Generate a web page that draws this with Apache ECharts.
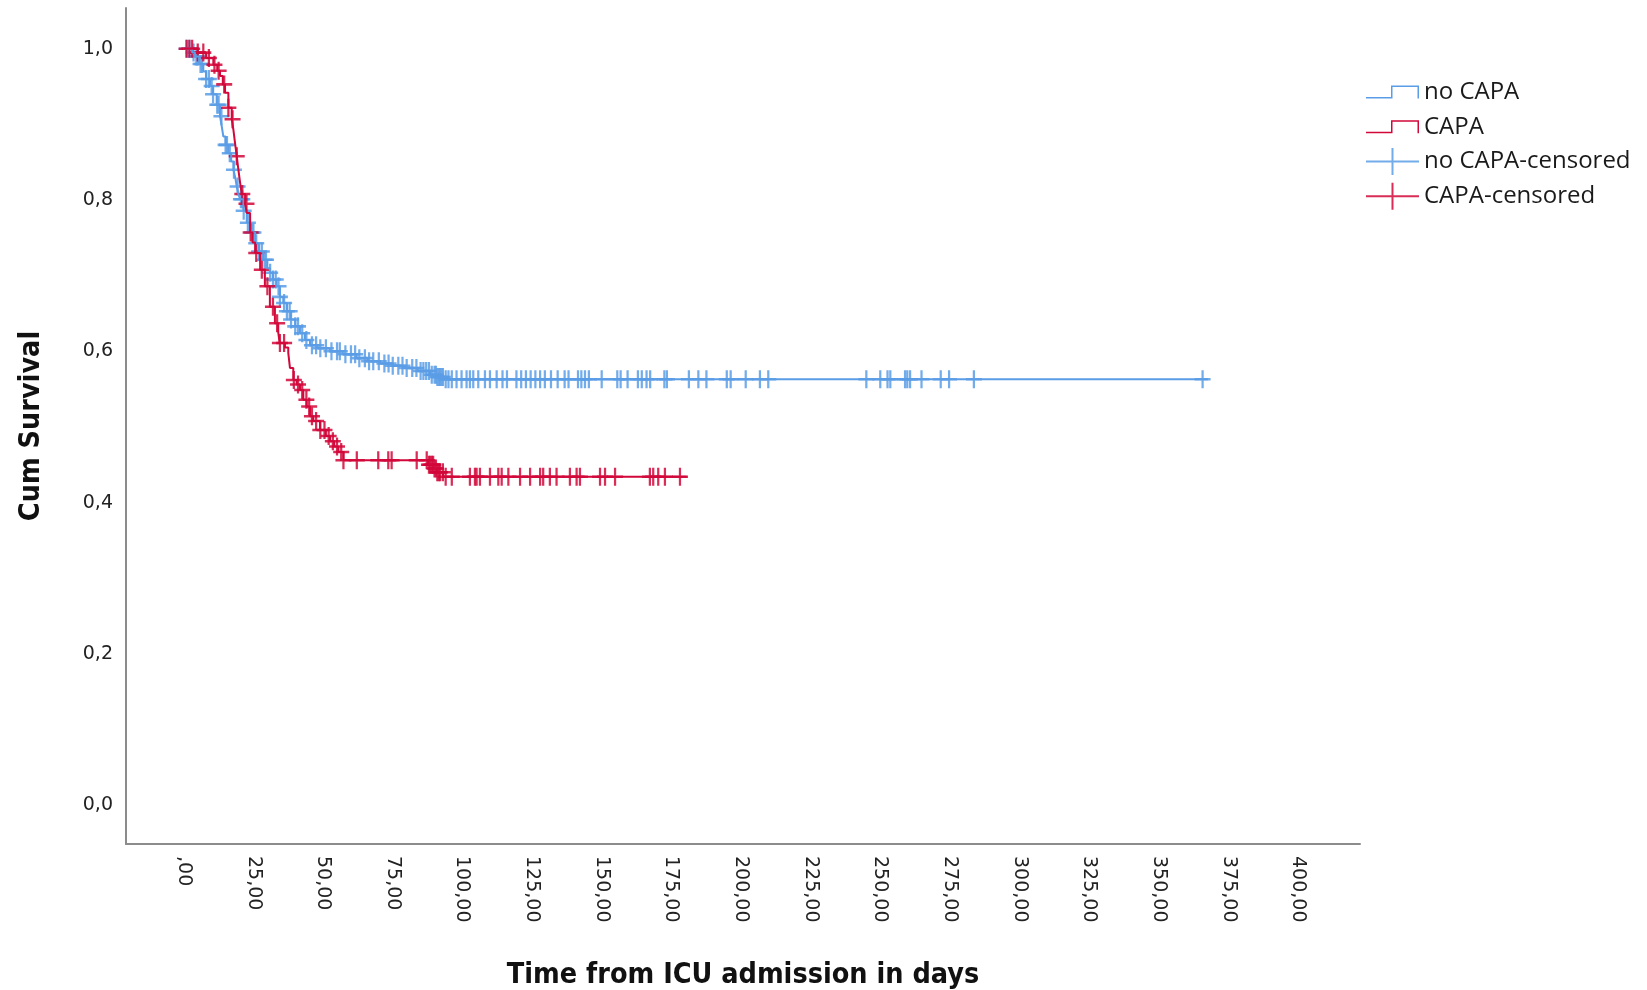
<!DOCTYPE html>
<html>
<head>
<meta charset="utf-8">
<script src="https://cdn.jsdelivr.net/npm/echarts@6/dist/echarts.min.js"></script>
<style>
    html, body {
        margin: 0;
        padding: 0;
        background: #fff;
    }
    #chart {
        width: 1647px;
        height: 990px;
    }
</style>
</head>
<body>
<div id="chart"></div>
<script>
// Kaplan-Meier steps: time (days) and survival after the drop
const noCapaTimes = [0, 3, 4, 5.5, 7, 8, 9.4, 10.5, 11.8, 13, 13.6, 14.2, 15, 16, 17, 17.8, 18.5, 19, 19.6, 20.2,
    21.4, 22.6, 24, 25.6, 27, 28.5, 30, 30.9, 32, 33.3, 34.5, 35.7, 37, 38.4, 40, 41.7, 43.5, 45.3, 48, 52.4,
    57, 62, 66, 70.4, 75, 78.8, 84, 88.4, 91, 93.1]
const noCapaSurv = [1.0, 0.995, 0.99, 0.98, 0.97, 0.96, 0.951, 0.94, 0.926, 0.911, 0.898, 0.884, 0.873, 0.862, 0.851, 0.84, 0.829, 0.818, 0.808, 0.801,
    0.786, 0.77, 0.757, 0.743, 0.732, 0.721, 0.71, 0.704, 0.695, 0.686, 0.672, 0.664, 0.653, 0.642, 0.633, 0.624, 0.615, 0.608, 0.604, 0.6,
    0.596, 0.591, 0.587, 0.584, 0.581, 0.578, 0.574, 0.569, 0.566, 0.563]
const noCapaEnd = 367.6

const capaTimes = [0, 5, 8, 10.6, 12, 13, 14, 14.8, 16, 17.2, 17.8, 18.4, 19, 19.6, 20.2, 20.8, 22, 22.6, 23.8, 24.7,
    25.6, 27.4, 29.1, 30.9, 32.7, 33.9, 34.4, 36.3, 37.5, 38.1, 39.3, 40.5, 41.7, 42.9, 44.1, 45.3, 46.5, 48.9, 51, 52.5,
    54, 55.5, 57.3, 87.7, 89.6, 91, 93.1]
const capaSurv = [1.0, 0.995, 0.988, 0.979, 0.971, 0.964, 0.953, 0.942, 0.922, 0.907, 0.893, 0.875, 0.858, 0.84, 0.823, 0.808, 0.795, 0.783, 0.757, 0.744,
    0.73, 0.708, 0.686, 0.659, 0.637, 0.625, 0.611, 0.605, 0.598, 0.578, 0.562, 0.556, 0.549, 0.536, 0.527, 0.514, 0.508, 0.496, 0.488, 0.481,
    0.474, 0.467, 0.456, 0.45, 0.445, 0.44, 0.434]
const capaEnd = 180.5

// censored times (days)
const noCapaCensored = [1, 2, 3.5, 4.5, 5, 6, 6.5, 8, 9, 10, 10.5, 12, 12.5, 13.5, 15, 15.5, 16.5, 18, 19.3, 20.5,
    21, 21.5, 23, 24.5, 25, 26, 27, 28, 29, 29.5, 31, 32, 33, 34, 34.5, 36, 37, 38, 38.5, 40,
    41, 42.5, 44, 46, 47.5, 49, 51, 53, 55, 56, 58, 60, 61.5, 63, 65, 66.5, 68, 70, 72, 73.5,
    75, 77, 78.5, 80, 82, 83.5, 85, 86, 87, 88, 89, 90, 90.5, 91, 91.5, 92, 92.5, 93, 94, 95,
    96.2, 97.9, 99.7, 101.5, 102.7, 103.9, 105.7, 108.1, 109.9, 112.3, 114.4, 116, 119.4, 121.1, 122.8, 124.5, 126.2, 127.9, 129.6, 131.8,
    134.2, 136.7, 138.1, 141.5, 142.7, 144, 145.4, 150, 155.6, 156.8, 159.3, 163, 164.4, 166.1, 167.4, 172.5, 173.4, 181.3, 184.7, 187.6,
    194.9, 196.3, 201.7, 206.8, 209.8, 245, 250, 252.6, 253.6, 258.9, 259.7, 260.7, 264.8, 271.7, 274.7, 283.6, 365.7]
const capaCensored = [1, 2, 3, 5, 7, 9, 11, 12.5, 14.5, 16, 17.5, 19, 21, 22.5, 24, 26, 28, 30, 32, 33.5,
    34.5, 36, 39.5, 41, 42.5, 44, 45, 46, 47.5, 49, 50.5, 52, 53.5, 55, 56.5, 57.3, 62.1, 69.8, 73.4, 74.6,
    83.6, 87.2, 88, 88.5, 89, 89.5, 90, 90.5, 91, 91.5, 92, 93, 94, 96.2, 102.7, 104.5, 105.1, 106.3, 109.9, 112.9,
    114.1, 116.5, 120.7, 124.3, 127.9, 129, 131.4, 133.8, 138.6, 141, 142.2, 149.4, 151.2, 154.8, 167.3, 168.5, 170.3, 172.7, 178.1]

const xTicks = [0, 25, 50, 75, 100, 125, 150, 175, 200, 225, 250, 275, 300, 325, 350, 375, 400]
const yTicks = [0, 0.2, 0.4, 0.6, 0.8, 1.0]

const BLUE = '#5a9de6'
const RED = '#d2073a'

function stepData(times, surv, end) {
    const d = times.map((t, i) => [t, surv[i]])
    d.push([end, surv[surv.length - 1]])
    return d
}

// survival level of the curve at time t
function survAt(times, surv, t) {
    let s = surv[0]
    for (let i = 0; i < times.length; i++) {
        if (times[i] <= t) s = surv[i]
    }
    return s
}

const PLUS = 'path://M0,43 L100,43 L100,57 L0,57 Z M43,0 L57,0 L57,100 L43,100 Z'
const STEP_ICON = 'path://M0,11.5 L25,11.5 L25,0 L53,0 L53,13 L51.5,13 L51.5,1.5 L26.5,1.5 L26.5,13 L0,13 Z'
const CENS_ICON = 'path://M0,12.5 L53,12.5 L53,14.5 L0,14.5 Z M25.5,0 L27.5,0 L27.5,27 L25.5,27 Z'

const chart = echarts.init(document.getElementById('chart'))

const legendText = {
    fontFamily: 'Open Sans',
    fontSize: 24,
    color: '#1a1a1a',
    lineHeight: 24,
}

const titleText = {
    fontFamily: 'Liberation Sans Narrow, DejaVu Sans Condensed, sans-serif',
    fontWeight: 'bold',
    fontSize: 28.5,
    color: '#111',
}

const option = {
    animation: false,
    grid: {
        left: 126,
        right: 287,
        top: 8,
        bottom: 146,
        outerBoundsMode: 'none',
    },
    legend: [
        {
            orient: 'vertical',
            left: 1366,
            top: 80,
            padding: 0,
            itemWidth: 53,
            itemHeight: 13,
            itemGap: 10.7,
            textStyle: legendText,
            itemStyle: { borderWidth: 0 },
            data: [
                { name: 'no CAPA', icon: STEP_ICON },
                { name: 'CAPA', icon: STEP_ICON },
            ],
        },
        {
            orient: 'vertical',
            left: 1366,
            top: 148,
            padding: 0,
            itemWidth: 53,
            itemHeight: 27,
            itemGap: 7.7,
            textStyle: legendText,
            itemStyle: { borderWidth: 0 },
            data: [
                { name: 'no CAPA-censored', icon: CENS_ICON },
                { name: 'CAPA-censored', icon: CENS_ICON },
            ],
        },
    ],
    xAxis: {
        type: 'value',
        min: -20.75,
        max: 422.2,
        name: 'Time from ICU admission in days',
        nameLocation: 'middle',
        nameGap: 117,
        nameTextStyle: titleText,
        axisLine: { onZero: false, lineStyle: { color: '#8c8c8c', width: 2 } },
        axisTick: { show: false },
        splitLine: { show: false },
        axisLabel: {
            customValues: xTicks,
            rotate: -90,
            margin: 12,
            fontFamily: 'DejaVu Sans',
            fontSize: 19,
            color: '#222',
            formatter: (v) => (v === 0 ? ',00' : v.toFixed(2).replace('.', ',')),
        },
    },
    yAxis: {
        type: 'value',
        min: -0.0515,
        max: 1.054,
        name: 'Cum Survival',
        nameLocation: 'middle',
        nameGap: 80,
        nameTextStyle: titleText,
        axisLine: { show: true, onZero: false, lineStyle: { color: '#8c8c8c', width: 2 } },
        axisTick: { show: false },
        splitLine: { show: false },
        axisLabel: {
            customValues: yTicks,
            margin: 13,
            fontFamily: 'DejaVu Sans',
            fontSize: 19,
            color: '#222',
            formatter: (v) => v.toFixed(1).replace('.', ','),
        },
    },
    series: [
        {
            name: 'no CAPA',
            type: 'line',
            step: 'end',
            symbol: 'none',
            color: BLUE,
            lineStyle: { width: 2, color: BLUE },
            data: stepData(noCapaTimes, noCapaSurv, noCapaEnd),
        },
        {
            name: 'CAPA',
            type: 'line',
            step: 'end',
            symbol: 'none',
            color: RED,
            lineStyle: { width: 2, color: RED },
            data: stepData(capaTimes, capaSurv, capaEnd),
        },
        {
            name: 'no CAPA-censored',
            type: 'scatter',
            symbol: PLUS,
            symbolSize: [16, 18],
            color: BLUE,
            itemStyle: { color: BLUE, opacity: 0.85 },
            data: noCapaCensored.map((t) => [t, survAt(noCapaTimes, noCapaSurv, t)]),
        },
        {
            name: 'CAPA-censored',
            type: 'scatter',
            symbol: PLUS,
            symbolSize: [16, 18],
            color: RED,
            itemStyle: { color: RED, opacity: 0.85 },
            data: capaCensored.map((t) => [t, survAt(capaTimes, capaSurv, t)]),
        },
    ],
}

chart.setOption(option)
</script>
</body>
</html>
